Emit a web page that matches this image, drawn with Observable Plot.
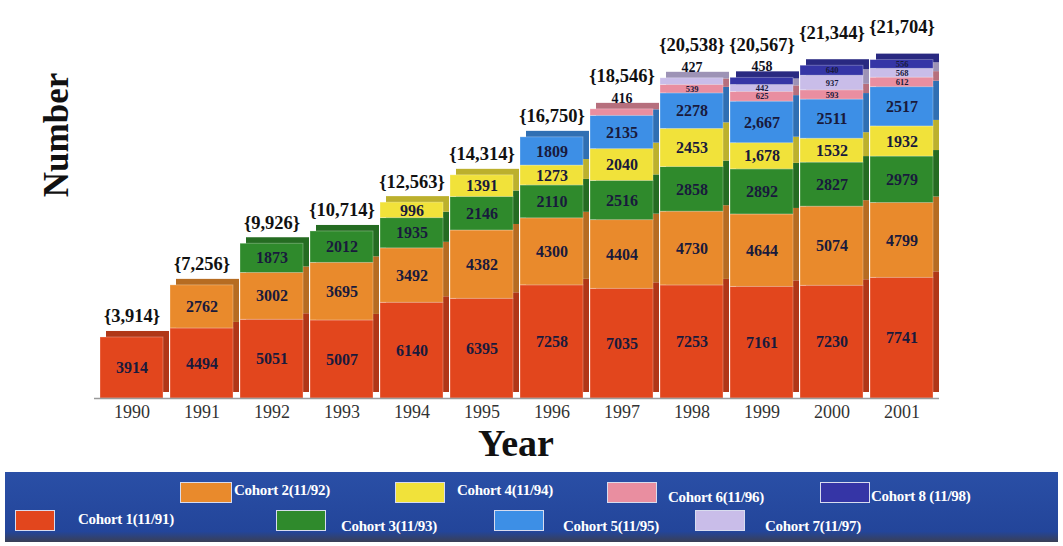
<!DOCTYPE html>
<html>
<head>
<meta charset="utf-8">
<script src="https://cdn.jsdelivr.net/npm/d3@7"></script>
<script src="https://cdn.jsdelivr.net/npm/@observablehq/plot@0.6"></script>
<style>
  html, body { margin: 0; padding: 0; background: #ffffff; }
  #wrap { position: relative; width: 1063px; height: 546px; overflow: hidden; font-family: "Liberation Serif", "DejaVu Serif", serif; }
  #chart { position: absolute; left: 0; top: 0; }
  #legend {
    position: absolute; left: 5px; top: 472px; width: 1053px; height: 70px;
    background: linear-gradient(#2a4fa6, #23459a 85%, #3a3f55);
  }
  .sw { position: absolute; height: 21px; border: 1px solid #d8dcef; box-sizing: border-box; }
  .lab { position: absolute; color: #ffffff; font-weight: bold; font-size: 15px; white-space: nowrap; letter-spacing: -0.3px; }
</style>
</head>
<body>
<div id="wrap">
  <div id="chart"></div>
  <div id="legend"></div>
</div>
<script>
// Enrolment by cohort, 1990–2001
const years = [1990, 1991, 1992, 1993, 1994, 1995, 1996, 1997, 1998, 1999, 2000, 2001];
const cohort1 = [3914, 4494, 5051, 5007, 6140, 6395, 7258, 7035, 7253, 7161, 7230, 7741];
const cohort2 = [0, 2762, 3002, 3695, 3492, 4382, 4300, 4404, 4730, 4644, 5074, 4799];
const cohort3 = [0, 0, 1873, 2012, 1935, 2146, 2110, 2516, 2858, 2892, 2827, 2979];
const cohort4 = [0, 0, 0, 0, 996, 1391, 1273, 2040, 2453, 1678, 1532, 1932];
const cohort5 = [0, 0, 0, 0, 0, 0, 1809, 2135, 2278, 2667, 2511, 2517];
const cohort6 = [0, 0, 0, 0, 0, 0, 0, 416, 539, 625, 593, 612];
const cohort7 = [0, 0, 0, 0, 0, 0, 0, 0, 427, 442, 937, 568];
const cohort8 = [0, 0, 0, 0, 0, 0, 0, 0, 0, 458, 640, 556];
const totalLabels = ["{3,914}", "{7,256}", "{9,926}", "{10,714}", "{12,563}", "{14,314}",
                     "{16,750}", "{18,546}", "{20,538}", "{20,567}", "{21,344}", "{21,704}"];
const cohortNames = ["Cohort 1(11/91)", "Cohort 2(11/92)", "Cohort 3(11/93)", "Cohort 4(11/94)",
                     "Cohort 5(11/95)", "Cohort 6(11/96)", "Cohort 7(11/97)", "Cohort 8 (11/98)"];
const cohortColors = ["#e2461d", "#e98a2c", "#2f8a2c", "#f1e23a", "#3d8fe6", "#e98ea0", "#c9bde9", "#3535a6"];
// segment labels printed with thousands separators: [year, cohort index]
const groupedLabels = [[1999, 3], [1999, 4]];

const series = [cohort1, cohort2, cohort3, cohort4, cohort5, cohort6, cohort7, cohort8];

const rows = [];
years.forEach((year, i) => {
  series.forEach((s, c) => {
    if (s[i] > 0) rows.push({year, cohort: c, value: s[i]});
  });
});

const fmtGroup = d3.format(",");
const isGrouped = d => groupedLabels.some(([y, c]) => y === d.year && c === d.cohort);

// topmost segment of each year and the stack total
const tops = years.map((year, i) => {
  const segs = rows.filter(r => r.year === year);
  const top = segs[segs.length - 1];
  const total = d3.sum(segs, r => r.value);
  return {year, top, total, label: totalLabels[i], late: top.cohort >= 5, above: top.cohort >= 5 && top.value < 500};
});

// very thin top segments get their number printed just above the bar instead of inside
const isAbove = d => tops.some(t => t.above && t.top === d);
const labelOf = d => isAbove(d) ? "" : isGrouped(d) ? fmtGroup(d.value) : String(d.value);
const above = tops.filter(t => t.above);

const stackOpts = extra => Plot.stackY({x: "year", y: "value", ...extra});

const plot = Plot.plot({
  width: 1063,
  height: 470,
  marginLeft: 94,
  marginRight: 124,
  marginTop: 55,
  marginBottom: 72,
  style: {fontFamily: "'Liberation Serif', serif", background: "transparent"},
  x: {type: "band", domain: years, paddingInner: 0.1, paddingOuter: 0.05, label: null,
      tickSize: 0, tickPadding: 7, tickFormat: d => String(d)},
  y: {domain: [0, 22000], axis: null},
  color: {type: "identity"},
  marks: [
    // extruded back faces give the bars some depth
    Plot.barY(rows, stackOpts({fill: d => d3.color(cohortColors[d.cohort]).darker(0.7).formatHex(), dx: 6, dy: -6, inset: 0})),
    Plot.barY(rows, stackOpts({fill: d => cohortColors[d.cohort], inset: 0, stroke: "#ffffff", strokeOpacity: 0.35, strokeWidth: 0.8})),
    Plot.ruleY([0], {stroke: "#9a9a9a", strokeWidth: 1.5}),
    Plot.text(rows, stackOpts({
      text: labelOf, fill: "#191a3c", fontWeight: "bold",
      fontSize: d => d.cohort >= 5 ? 8.5 : 16
    })),
    Plot.text(above, {x: "year", y: "total", text: d => String(d.top.value), dy: -11, fill: "#111122", fontWeight: "bold", fontSize: 14}),
    Plot.text(tops.filter(t => !t.late), {x: "year", y: "total", text: "label", dy: -21, fill: "#111111", fontWeight: "bold", fontSize: 18.5}),
    Plot.text(tops.filter(t => t.late), {x: "year", y: "total", text: "label", dy: -33, fill: "#111111", fontWeight: "bold", fontSize: 18.5})
  ]
});

const svg = d3.select(plot);
// axis tick labels in the chart's serif face
svg.selectAll("g[aria-label='x-axis tick label']")
  .attr("font-size", 18).attr("fill", "#333333");

svg.append("text")
  .attr("transform", "translate(68,135) rotate(-90)")
  .attr("text-anchor", "middle")
  .attr("font-size", 35).attr("font-weight", "bold").attr("fill", "#111111")
  .text("Number");
svg.append("text")
  .attr("x", 516).attr("y", 456)
  .attr("text-anchor", "middle")
  .attr("font-size", 38).attr("font-weight", "bold").attr("fill", "#111111")
  .text("Year");

document.getElementById("chart").appendChild(plot);

// legend: two staggered rows of swatches on a blue band
const legendSlots = [
  {sx: 10, sy: 38, w: 40, lx: 73, ly: 39},    // cohort 1
  {sx: 175, sy: 10, w: 52, lx: 229, ly: 10},  // cohort 2
  {sx: 271, sy: 38, w: 50, lx: 336, ly: 46},  // cohort 3
  {sx: 390, sy: 10, w: 50, lx: 452, ly: 10},  // cohort 4
  {sx: 489, sy: 38, w: 50, lx: 558, ly: 46},  // cohort 5
  {sx: 602, sy: 10, w: 50, lx: 663, ly: 17},  // cohort 6
  {sx: 690, sy: 38, w: 50, lx: 760, ly: 46},  // cohort 7
  {sx: 815, sy: 10, w: 50, lx: 866, ly: 16}   // cohort 8
];
const legend = d3.select("#legend");
cohortNames.forEach((name, i) => {
  const s = legendSlots[i];
  legend.append("div").attr("class", "sw")
    .style("left", s.sx + "px").style("top", s.sy + "px")
    .style("width", s.w + "px")
    .style("background", cohortColors[i]);
  legend.append("div").attr("class", "lab")
    .style("left", s.lx + "px").style("top", s.ly + "px")
    .text(name);
});
</script>
</body>
</html>
